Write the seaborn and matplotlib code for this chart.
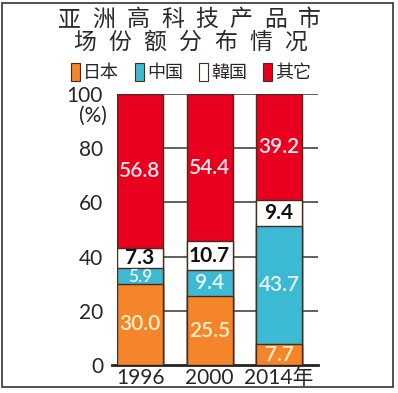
import numpy as np
import pandas as pd
import matplotlib
matplotlib.use("Agg")
import matplotlib.pyplot as plt
from matplotlib.patches import Patch, Rectangle
import seaborn as sns

# 数据
years = ["1996", "2000", "2014年"]
japan = [30.0, 25.5, 7.7]
china = [5.9, 9.4, 43.7]
korea = [7.3, 10.7, 9.4]
other = [56.8, 54.4, 39.2]

series_names = ["日本", "中国", "韓国", "其它"]
colors = ["#F5852B", "#3DBAD3", "#FFFFFF", "#E8001E"]
label_colors = ["#FFF2C6", "#E6F6FB", "#111111", "#FFE9EC"]
title_lines = ["亚洲高科技产品市", "场份额分布情况"]

sns.set_style("white")
plt.rcParams["font.family"] = ["Noto Sans CJK SC", "DejaVu Sans"]

df = pd.DataFrame({"year": years, "日本": japan, "中国": china, "韓国": korea, "其它": other})
values = df[series_names].to_numpy()
cum = np.cumsum(values, axis=1)

fig = plt.figure(figsize=(3.98, 3.93), dpi=100)
ax = fig.add_axes([0.294, 0.071, 0.505, 0.690])

# 从上往下叠画，实现堆叠效果
for i in range(len(series_names) - 1, -1, -1):
    tmp = pd.DataFrame({"year": years, "total": cum[:, i]})
    sns.barplot(data=tmp, x="year", y="total", color=colors[i], width=0.662,
                edgecolor="#4a2a1a", linewidth=1.0, saturation=1, ax=ax, zorder=3)

# 数值标签
for j in range(len(years)):
    for i in range(len(series_names)):
        v = values[j, i]
        mid = cum[j, i] - v / 2
        size = 15
        if v < 7:
            size = 12.5
            mid -= 0.6
        weight = "bold" if i == 2 else "semibold"
        ax.text(j, mid, f"{v:.1f}", ha="center", va="center",
                fontsize=size, color=label_colors[i], family="Lato",
                fontweight=weight, zorder=5)

ax.set_ylim(0, 100)
ax.set_xlim(-0.331, 2.561)
ax.set_yticks([0, 20, 40, 60, 80, 100])
ax.set_yticklabels(["0", "20", "40", "60", "80", "100"], family="Lato", fontsize=15)
ax.tick_params(axis="y", length=9, width=1.2, color="#333333", pad=1)
ax.tick_params(axis="x", length=0, pad=2)
for lbl in ax.get_xticklabels():
    lbl.set_fontsize(15)
    lbl.set_family(["Lato", "Noto Sans CJK SC"])
ax.set_xlabel("")
ax.set_ylabel("")
for y in [20, 40, 60, 80, 100]:
    ax.axhline(y, color="#444444", linewidth=1.2, zorder=1)
for s in ["top", "right", "left"]:
    ax.spines[s].set_visible(False)
ax.spines["bottom"].set_color("#222222")
ax.spines["bottom"].set_linewidth(2)
ax.spines["bottom"].set_bounds(-0.40, 2.561)

ax.text(-0.05, 0.918, "(%)", transform=ax.transAxes, ha="right", va="center",
        fontsize=15, family="Lato", color="#222222")

# 标题（逐字排开）
for line, x0, step, yy in [(title_lines[0], 69.5, 34.3, 0.950), (title_lines[1], 84.5, 35.2, 0.893)]:
    for k, ch in enumerate(line):
        fig.text((x0 + k * step) / 398, yy, ch, ha="center", va="center",
                 fontsize=16.5, color="#2a2a2a")

# 图例
handles = [Patch(facecolor=c, edgecolor="#4a2a1a", linewidth=0.8) for c in colors]
fig.legend(handles, series_names, loc="center", bbox_to_anchor=(0.48, 0.815),
           ncol=4, frameon=False, fontsize=13, handlelength=0.5, handleheight=1.1,
           handletextpad=0.15, columnspacing=0.9)

# 外框
fig.patches.append(Rectangle((0.006, 0.015), 0.982, 0.978, transform=fig.transFigure,
                             fill=False, edgecolor="#333333", linewidth=1.2))

fig.savefig("out.png", dpi=100)
